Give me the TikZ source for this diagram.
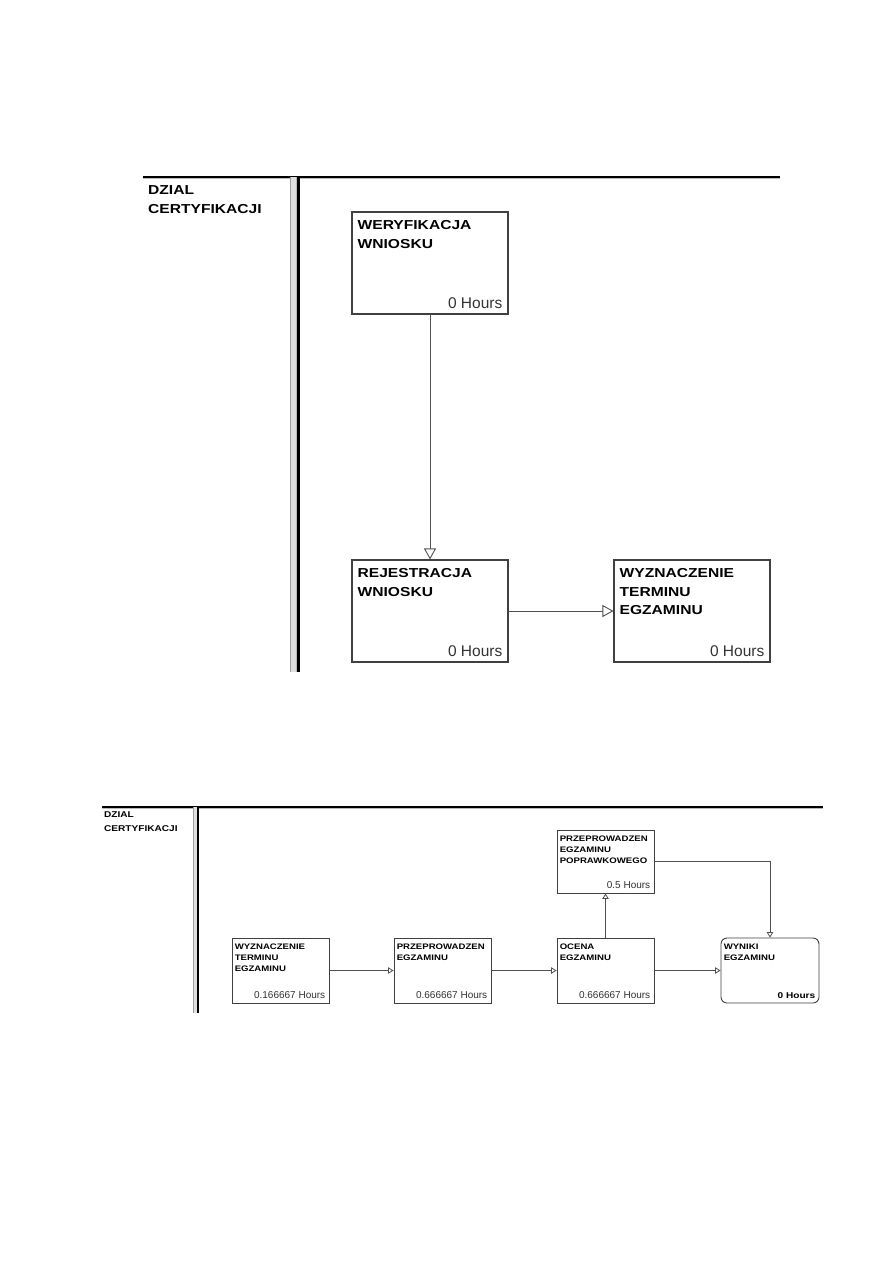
\documentclass[tikz,border=0pt]{standalone}
\usepackage{fontspec}
\setmainfont{Liberation Sans}
\newfontfamily\wideface[FakeStretch=1.2]{Liberation Sans}
\usetikzlibrary{arrows.meta,positioning,calc}
\definecolor{boxline}{HTML}{404040}
\definecolor{conn}{HTML}{505050}
\definecolor{hrs}{HTML}{333333}
\tikzset{
  bigbox/.style={draw=boxline, line width=1.1pt, fill=white, minimum width=156pt, minimum height=102pt, inner sep=0pt},
  smallbox/.style={draw=boxline, line width=0.9pt, fill=white, minimum width=97pt, minimum height=65pt, inner sep=0pt},
  bigtitle/.style={anchor=north west, inner sep=0pt, align=left, font=\wideface\bfseries\fontsize{13}{18.7}\selectfont},
  smalltitle/.style={anchor=north west, inner sep=0pt, align=left, font=\wideface\bfseries\fontsize{8}{11.3}\selectfont},
  bighours/.style={anchor=base east, inner sep=0pt, text=hrs, font=\fontsize{15.5}{18}\selectfont},
  smallhours/.style={anchor=base east, inner sep=0pt, text=hrs, font=\fontsize{10}{12}\selectfont},
  bigarrow/.style={draw=conn, line width=0.9pt, -{Triangle[open, length=11pt, width=12pt, fill=white]}},
  smallarrow/.style={draw=conn, line width=0.8pt, -{Triangle[open, length=5.5pt, width=6.5pt, fill=white]}},
  lanetitle/.style={anchor=north west, inner sep=0pt, align=left},
}
\begin{document}
\begin{tikzpicture}[x=1pt, y=-1pt]
\useasboundingbox[fill=white] (0,0) rectangle (893,1263);

% ---------- top swimlane ----------
\draw[gray!55, line width=1.2pt] (143,178.8) -- (780,178.8);
\draw[black, line width=2.6pt] (143,177) -- (780,177);
\fill[gray!25] (290.5,177) rectangle (296,672);
\draw[gray!75, line width=0.8pt] (290.8,177) -- (290.8,672);
\draw[gray!55, line width=0.6pt] (295.8,177) -- (295.8,672);
\draw[black, line width=2.6pt] (298.6,176) -- (298.6,672);
\node[lanetitle, font=\wideface\bfseries\fontsize{13}{18.7}\selectfont] (lane1) at (148,185.7) {DZIAL\\CERTYFIKACJI};

\node[bigbox] (wer) at (430,263) {};
\node[bigbox] (rej) at (430,611) {};
\node[bigbox] (wyz) at (692,611) {};

\node[bigtitle] (wer-t) at ([shift={(6,8.7)}]wer.north west) {WERYFIKACJA\\WNIOSKU};
\node[bigtitle] (rej-t) at ([shift={(6,8.7)}]rej.north west) {REJESTRACJA\\WNIOSKU};
\node[bigtitle] (wyz-t) at ([shift={(6,8.7)}]wyz.north west) {WYZNACZENIE\\TERMINU\\EGZAMINU};

\node[bighours] (wer-h) at ([shift={(-6,-6)}]wer.south east) {0 Hours};
\node[bighours] (rej-h) at ([shift={(-6,-6)}]rej.south east) {0 Hours};
\node[bighours] (wyz-h) at ([shift={(-6,-6)}]wyz.south east) {0 Hours};

\draw[bigarrow] (wer.south) -- (rej.north);
\draw[bigarrow] (rej.east) -- (wyz.west);

% ---------- bottom swimlane ----------
\draw[gray!55, line width=0.8pt] (102,808.2) -- (823,808.2);
\draw[black, line width=1.5pt] (102,807) -- (823,807);
\fill[gray!25] (193,807) rectangle (196.5,1013);
\draw[gray!75, line width=0.6pt] (193.2,807) -- (193.2,1013);
\draw[black, line width=1.6pt] (197.8,806.5) -- (197.8,1013);
\node[lanetitle, font=\wideface\bfseries\fontsize{8.4}{14}\selectfont] (lane2) at (104,812) {DZIAL\\CERTYFIKACJI};

\node[smallbox] (wyz2) at (280.5,970.5) {};
\node[smallbox] (prz) at (442.5,970.5) {};
\node[smallbox] (oce) at (605.5,970.5) {};
\node[smallbox, minimum height=63pt] (pop) at (605.5,861.5) {};
\node[smallbox, minimum width=98pt, rounded corners=6pt] (wyn) at (770,970.5) {};

\node[smalltitle] (wyz2-t) at ([shift={(3,6)}]wyz2.north west) {WYZNACZENIE\\TERMINU\\EGZAMINU};
\node[smalltitle] (prz-t) at ([shift={(3,6)}]prz.north west) {PRZEPROWADZEN\\EGZAMINU};
\node[smalltitle] (oce-t) at ([shift={(3,6)}]oce.north west) {OCENA\\EGZAMINU};
\node[smalltitle] (pop-t) at ([shift={(3,6)}]pop.north west) {PRZEPROWADZEN\\EGZAMINU\\POPRAWKOWEGO};
\node[smalltitle] (wyn-t) at ([shift={(3,6)}]wyn.north west) {WYNIKI\\EGZAMINU};

\node[smallhours] (wyz2-h) at ([shift={(-4,-4.7)}]wyz2.south east) {0.166667 Hours};
\node[smallhours] (prz-h) at ([shift={(-4,-4.7)}]prz.south east) {0.666667 Hours};
\node[smallhours] (oce-h) at ([shift={(-4,-4.7)}]oce.south east) {0.666667 Hours};
\node[smallhours] (pop-h) at ([shift={(-4,-4.7)}]pop.south east) {0.5 Hours};
\node[smallhours, text=black, font=\wideface\bfseries\fontsize{8.4}{10}\selectfont] (wyn-h) at ([shift={(-4,-4.7)}]wyn.south east) {0 Hours};

\draw[smallarrow] (wyz2.east) -- (prz.west);
\draw[smallarrow] (prz.east) -- (oce.west);
\draw[smallarrow] (oce.east) -- (wyn.west);
\draw[smallarrow] (oce.north) -- (pop.south);
\draw[smallarrow] (pop.east) -| (wyn.north);
\end{tikzpicture}
\end{document}
